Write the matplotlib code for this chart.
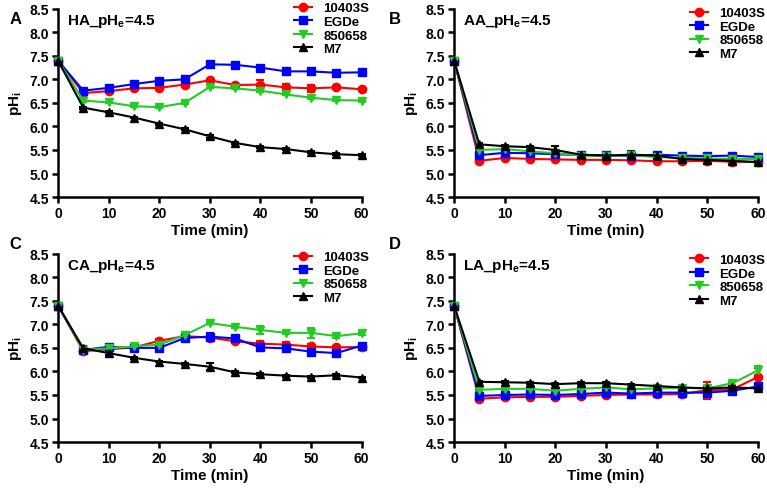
import numpy as np
import matplotlib
matplotlib.use("Agg")
import matplotlib.pyplot as plt
from matplotlib.lines import Line2D

plt.rcParams['font.family'] = ['Liberation Sans', 'DejaVu Sans']
plt.rcParams['font.weight'] = 'bold'
plt.rcParams['mathtext.fontset'] = 'custom'
plt.rcParams['mathtext.rm'] = 'Liberation Sans:bold'
plt.rcParams['mathtext.it'] = 'Liberation Sans:bold'
plt.rcParams['mathtext.bf'] = 'Liberation Sans:bold'

time = [0, 5, 10, 15, 20, 25, 30, 35, 40, 45, 50, 55, 60]
strains = ['10403S', 'EGDe', '850658', 'M7']
colors = ['#ff0000', '#0000ff', '#22cc22', '#000000']
markers = ['o', 's', 'v', '^']
panels = ['A', 'B', 'C', 'D']
acids = ['HA', 'AA', 'CA', 'LA']

# pHi per panel, per strain
HA = {
    '10403S': [7.4, 6.71, 6.75, 6.81, 6.82, 6.89, 6.98, 6.88, 6.89, 6.83, 6.81, 6.83, 6.79],
    'EGDe':   [7.4, 6.76, 6.82, 6.90, 6.97, 7.00, 7.32, 7.31, 7.25, 7.17, 7.17, 7.14, 7.15],
    '850658': [7.4, 6.55, 6.51, 6.43, 6.41, 6.50, 6.84, 6.81, 6.76, 6.68, 6.61, 6.56, 6.55],
    'M7':     [7.4, 6.40, 6.30, 6.19, 6.06, 5.94, 5.79, 5.65, 5.56, 5.52, 5.45, 5.41, 5.39],
}
AA = {
    '10403S': [7.4, 5.27, 5.33, 5.31, 5.30, 5.29, 5.29, 5.28, 5.26, 5.26, 5.27, 5.25, 5.25],
    'EGDe':   [7.4, 5.39, 5.44, 5.43, 5.41, 5.39, 5.39, 5.37, 5.40, 5.38, 5.37, 5.38, 5.35],
    '850658': [7.4, 5.50, 5.52, 5.47, 5.43, 5.38, 5.37, 5.39, 5.35, 5.33, 5.32, 5.31, 5.31],
    'M7':     [7.4, 5.62, 5.58, 5.56, 5.50, 5.40, 5.38, 5.40, 5.38, 5.31, 5.29, 5.27, 5.24],
}
CA = {
    '10403S': [7.4, 6.43, 6.47, 6.51, 6.65, 6.75, 6.72, 6.64, 6.59, 6.57, 6.53, 6.51, 6.52],
    'EGDe':   [7.4, 6.46, 6.52, 6.50, 6.50, 6.71, 6.74, 6.70, 6.51, 6.49, 6.42, 6.39, 6.55],
    '850658': [7.4, 6.46, 6.49, 6.53, 6.57, 6.77, 7.03, 6.95, 6.88, 6.82, 6.82, 6.75, 6.81],
    'M7':     [7.4, 6.49, 6.39, 6.29, 6.21, 6.16, 6.10, 5.98, 5.94, 5.91, 5.89, 5.92, 5.87],
}
LA = {
    '10403S': [7.4, 5.42, 5.45, 5.46, 5.46, 5.48, 5.50, 5.51, 5.51, 5.52, 5.60, 5.62, 5.88],
    'EGDe':   [7.4, 5.48, 5.50, 5.51, 5.50, 5.52, 5.55, 5.53, 5.55, 5.55, 5.55, 5.59, 5.68],
    '850658': [7.4, 5.61, 5.63, 5.63, 5.59, 5.63, 5.66, 5.62, 5.64, 5.65, 5.64, 5.75, 6.02],
    'M7':     [7.4, 5.78, 5.77, 5.76, 5.73, 5.75, 5.75, 5.72, 5.69, 5.66, 5.64, 5.66, 5.64],
}
# standard errors (mostly tiny)
HA_err = {
    '10403S': [0, 0.03, 0.02, 0.02, 0.02, 0.02, 0.03, 0.03, 0.1, 0.08, 0.07, 0.03, 0.03],
    'EGDe':   [0, 0.02, 0.02, 0.02, 0.02, 0.02, 0.03, 0.02, 0.03, 0.03, 0.02, 0.02, 0.02],
    '850658': [0, 0.02, 0.02, 0.02, 0.02, 0.02, 0.03, 0.02, 0.02, 0.02, 0.02, 0.02, 0.02],
    'M7':     [0, 0.02, 0.02, 0.02, 0.02, 0.02, 0.03, 0.02, 0.02, 0.02, 0.02, 0.02, 0.02],
}
AA_err = {
    '10403S': [0, 0.02, 0.02, 0.02, 0.02, 0.02, 0.02, 0.02, 0.02, 0.02, 0.02, 0.02, 0.02],
    'EGDe':   [0, 0.02, 0.02, 0.02, 0.02, 0.02, 0.02, 0.02, 0.02, 0.02, 0.02, 0.02, 0.02],
    '850658': [0, 0.02, 0.03, 0.02, 0.02, 0.02, 0.02, 0.02, 0.02, 0.02, 0.02, 0.02, 0.02],
    'M7':     [0, 0.02, 0.02, 0.02, 0.08, 0.02, 0.02, 0.07, 0.02, 0.02, 0.02, 0.02, 0.02],
}
CA_err = {
    '10403S': [0, 0.02, 0.02, 0.02, 0.03, 0.03, 0.05, 0.04, 0.06, 0.06, 0.05, 0.03, 0.03],
    'EGDe':   [0, 0.02, 0.03, 0.02, 0.02, 0.04, 0.08, 0.05, 0.08, 0.04, 0.08, 0.03, 0.04],
    '850658': [0, 0.02, 0.02, 0.02, 0.02, 0.05, 0.02, 0.03, 0.08, 0.03, 0.1, 0.03, 0.03],
    'M7':     [0, 0.04, 0.04, 0.02, 0.02, 0.02, 0.07, 0.02, 0.02, 0.02, 0.02, 0.02, 0.02],
}
LA_err = {
    '10403S': [0, 0.02, 0.02, 0.02, 0.02, 0.02, 0.02, 0.02, 0.02, 0.02, 0.18, 0.06, 0.2],
    'EGDe':   [0, 0.02, 0.02, 0.02, 0.02, 0.02, 0.02, 0.02, 0.02, 0.02, 0.05, 0.03, 0.04],
    '850658': [0, 0.02, 0.02, 0.02, 0.02, 0.02, 0.02, 0.02, 0.02, 0.02, 0.02, 0.03, 0.1],
    'M7':     [0, 0.02, 0.02, 0.02, 0.02, 0.02, 0.02, 0.02, 0.02, 0.02, 0.02, 0.02, 0.02],
}
data = [HA, AA, CA, LA]
errs = [HA_err, AA_err, CA_err, LA_err]

fig = plt.figure(figsize=(7.67, 4.89), dpi=100)
boxes = [(0.0756, 0.595), (0.592, 0.595), (0.0756, 0.094), (0.592, 0.094)]
w, h = 0.396, 0.385
# panel letter positions (figure fraction)
letter_xy = [(0.012, 0.975), (0.507, 0.975), (0.012, 0.515), (0.507, 0.515)]
leg_y = [1.035, 1.01, 1.015, 1.0]

for k in range(4):
    ax = fig.add_axes([boxes[k][0], boxes[k][1], w, h])
    for s, c, m in zip(strains, colors, markers):
        ax.errorbar(time, data[k][s], yerr=errs[k][s], color=c, marker=m, ms=6,
                    lw=1.5, capsize=3, elinewidth=1.5, capthick=1.5,
                    clip_on=False, zorder=3)
    ax.set_xlim(0, 60)
    ax.set_ylim(4.5, 8.5)
    ax.set_xticks(range(0, 61, 10))
    ax.set_yticks(np.arange(4.5, 8.51, 0.5))
    ax.yaxis.set_major_formatter(matplotlib.ticker.FormatStrFormatter('%.1f'))
    for sp in ['top', 'right']:
        ax.spines[sp].set_visible(False)
    for sp in ['left', 'bottom']:
        ax.spines[sp].set_linewidth(1.8)
    ax.tick_params(width=1.8, length=4.5, labelsize=10, direction='out', pad=2)
    for lab in ax.get_xticklabels() + ax.get_yticklabels():
        lab.set_fontweight('bold')
    ax.set_xlabel('Time (min)', fontsize=11, fontweight='bold', labelpad=2)
    ax.set_ylabel('pH$_i$', fontsize=11, fontweight='bold', labelpad=4)
    ax.text(0.03, 0.985, acids[k] + '_pH$_e$=4.5', transform=ax.transAxes,
            fontsize=11, fontweight='bold', va='top', ha='left')
    fig.text(letter_xy[k][0], letter_xy[k][1], panels[k],
             fontsize=12, fontweight='bold', va='top', ha='left')
    handles = [Line2D([], [], color=c, marker=m, ms=6, lw=1.5)
               for c, m in zip(colors, markers)]
    leg = ax.legend(handles, strains, loc='upper right', bbox_to_anchor=(1.025, leg_y[k]),
                    frameon=False, fontsize=9.5, handlelength=1.3, handletextpad=0.9,
                    labelspacing=0.1, borderaxespad=0, borderpad=0)
    for t in leg.get_texts():
        t.set_fontweight('bold')

fig.savefig('out.png', dpi=100)
